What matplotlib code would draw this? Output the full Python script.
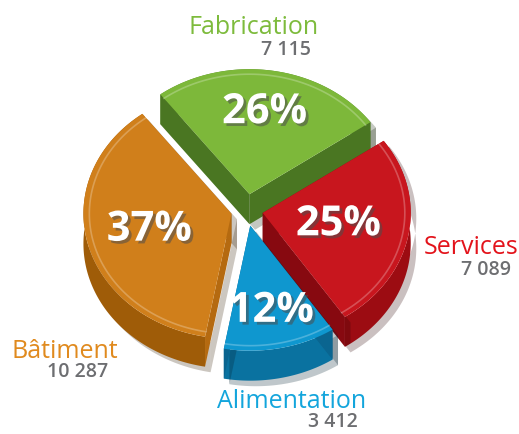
import numpy as np
import matplotlib.pyplot as plt
from matplotlib.patches import Polygon
import matplotlib.patheffects as pe

# ---- data ----
categories = ['Fabrication', 'Services', 'Alimentation', 'Bâtiment']
values = [7115, 7089, 3412, 10287]
percents = [26, 25, 12, 37]

top_colors = ['#7db83a', '#c8161e', '#0f97cf', '#d07f1b']
side_colors = ['#57892a', '#9c0c12', '#0a72a0', '#9f5c08']
edge_colors = ['#4a7622', '#870910', '#0a6590', '#b56a10']
label_colors = ['#7dbb3c', '#e3131b', '#13a5dc', '#e08a1e']
value_color = '#6d6e71'

# ---- layout (pixel space) ----
cx, cy = 247, 210
rx, ry = 148, 125
depth = 30
explode = 16
start = 127.0
label_r = [0.66, 0.52, 0.70, 0.57]
name_pos = [(254, 28), (471, 248), (292, 401), (65, 351)]
value_pos = [(311, 50), (511, 270), (358, 422), (108, 372)]

plt.rcParams['font.family'] = ['Open Sans', 'DejaVu Sans']

fig = plt.figure(figsize=(5.19, 4.34), dpi=100)
ax = fig.add_axes([0, 0, 1, 1])
ax.set_xlim(0, 519)
ax.set_ylim(434, 0)
ax.axis('off')

total = float(sum(values))
spans = [v / total * 360.0 for v in values]

wedges = []
a = start
for i, s in enumerate(spans):
    a1, a2 = a, a - s
    mid = np.radians((a1 + a2) / 2)
    ox = cx + explode * np.cos(mid)
    oy = cy - explode * np.sin(mid)
    t = np.radians(np.linspace(a1, a2, 120))
    arc = np.column_stack([ox + rx * np.cos(t), oy - ry * np.sin(t)])
    wedges.append((i, ox, oy, arc, mid))
    a = a2

# draw back to front
order = [0, 1, 3, 2]
shadow = [pe.SimplePatchShadow(offset=(4, -4), alpha=0.25), pe.Normal()]
for i in order:
    _, ox, oy, arc, mid = wedges[i]
    apex = np.array([ox, oy])
    down = np.array([0, depth])
    # outer side
    side = np.vstack([arc, (arc + down)[::-1]])
    ax.add_patch(Polygon(side, closed=True, fc=side_colors[i], ec='none',
                         path_effects=shadow))
    # radial faces
    for p in (arc[0], arc[-1]):
        quad = np.array([apex, p, p + down, apex + down])
        ax.add_patch(Polygon(quad, closed=True, fc=edge_colors[i], ec='none',
                             path_effects=shadow))
    # top face
    top = np.vstack([apex, arc])
    ax.add_patch(Polygon(top, closed=True, fc=top_colors[i], ec='none'))
    # bevel highlight
    inner = np.column_stack([ox + (arc[:, 0] - ox) * 0.96, oy + (arc[:, 1] - oy) * 0.96])
    ax.plot(inner[:, 0], inner[:, 1], color='white', alpha=0.25, lw=1.2)

# percent labels
for i, ox, oy, arc, mid in wedges:
    x = ox + label_r[i] * rx * np.cos(mid)
    y = oy - label_r[i] * ry * np.sin(mid)
    ax.text(x, y, f'{percents[i]}%', color='white', fontsize=30, fontweight='bold',
            ha='center', va='center',
            path_effects=[pe.SimplePatchShadow(offset=(2, -2), alpha=0.55), pe.Normal()])

# category names and values
for i, name in enumerate(categories):
    ax.text(*name_pos[i], name, color=label_colors[i], fontsize=18,
            ha='center', va='center')
    ax.text(*value_pos[i], f'{values[i]:,}'.replace(',', ' '), color=value_color,
            fontsize=14, fontweight='semibold', ha='right', va='center')

fig.savefig('out.png', dpi=100)
